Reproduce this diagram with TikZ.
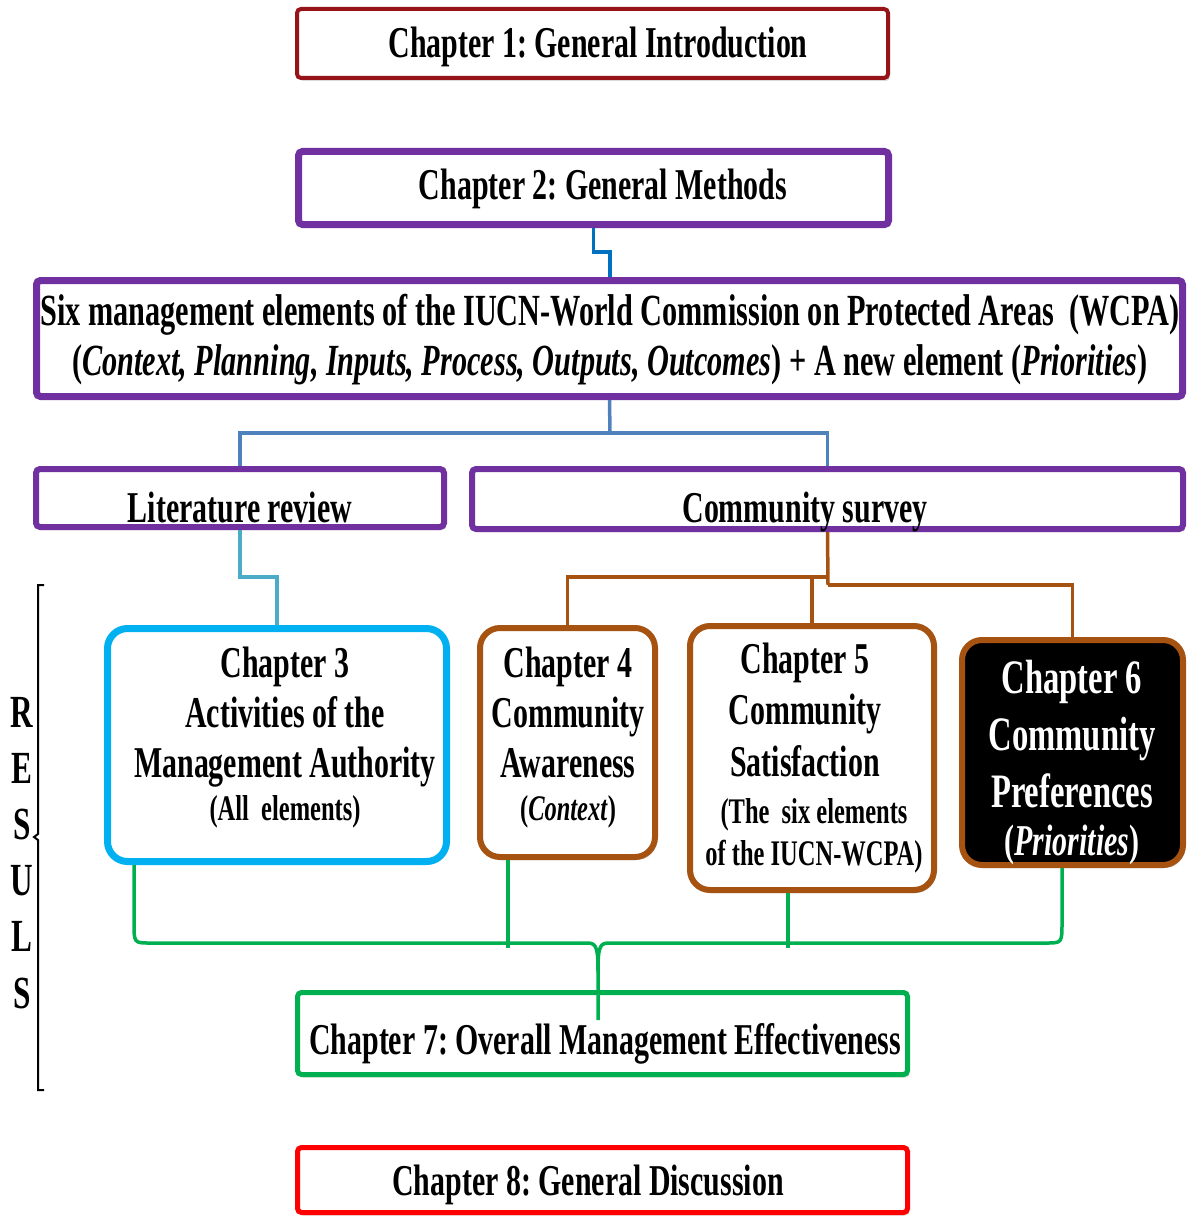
\documentclass[tikz,border=0pt]{standalone}
\usepackage{fontspec}
\setmainfont{Liberation Serif}[FakeStretch=0.68]
\usetikzlibrary{shadows}

\definecolor{introred}{RGB}{150,20,24}
\definecolor{methpurple}{RGB}{112,48,160}
\definecolor{linkblue}{RGB}{0,112,192}
\definecolor{steelblue}{RGB}{79,129,189}
\definecolor{litblue}{RGB}{75,172,198}
\definecolor{mgmtcyan}{RGB}{0,176,240}
\definecolor{surveybrown}{RGB}{166,82,16}
\definecolor{effgreen}{RGB}{0,176,80}
\definecolor{discred}{RGB}{255,0,0}

\frenchspacing

\begin{document}
\begin{tikzpicture}[x=1pt, y=-1pt,
    box/.style={draw, fill=white, line width=6pt, rounded corners=4pt, inner sep=0pt,
                drop shadow={opacity=0.3, shadow xshift=2pt, shadow yshift=-3pt}},
    chbox/.style={box, rounded corners=20pt},
    link/.style={line width=3.5pt},
    title/.style={font=\bfseries\fontsize{44}{50}\selectfont, inner sep=0pt, align=center},
    sub/.style={font=\bfseries\fontsize{36}{42}\selectfont, inner sep=0pt, align=center}]

\useasboundingbox (0,0) rectangle (1188,1217);

% frames
\node[box, draw=introred, line width=4pt, minimum width=591, minimum height=69] (ch1) at (592.5,43.5) {};
\node[box, draw=methpurple, line width=7pt, minimum width=590, minimum height=73] (ch2) at (593.5,188) {};
\node[box, draw=methpurple, line width=7pt, minimum width=1146, minimum height=116] (elem) at (609.5,338.5) {};
\node[box, draw=methpurple, minimum width=408, minimum height=58] (lit) at (240,498) {};
\node[box, draw=methpurple, minimum width=711, minimum height=60] (srv) at (827.5,499) {};
\node[chbox, draw=mgmtcyan, line width=7pt, minimum width=339, minimum height=233] (ch3) at (277,745) {};
\node[chbox, draw=surveybrown, minimum width=175, minimum height=229] (ch4) at (567.5,742.5) {};
\node[chbox, draw=surveybrown, minimum width=244, minimum height=264] (ch5) at (812,758) {};
\node[chbox, draw=surveybrown, fill=black, minimum width=221, minimum height=225] (ch6) at (1072.5,752.5) {};
\node[box, draw=effgreen, line width=5pt, minimum width=610, minimum height=82] (ch7) at (602.5,1033.5) {};
\node[box, draw=discred, line width=5pt, minimum width=610, minimum height=65] (ch8) at (602.5,1180) {};

% texts (base = last line)
\node[title, anchor=base] (ch1txt) at (598,58) {Chapter 1: General Introduction};
\node[title, anchor=base] (ch2txt) at (603,199) {Chapter 2: General Methods};
\node[title, font=\bfseries\fontsize{44.5}{50}\selectfont, anchor=base] (elemtxt) at (610,375) {Six management elements of the IUCN-World Commission on Protected Areas\ \ (WCPA)\\
  (\textit{Context, Planning, Inputs, Process, Outputs, Outcomes}) + A new element (\textit{Priorities})};
\node[title, anchor=base] (littxt) at (240,522) {Literature review};
\node[title, anchor=base] (srvtxt) at (805,522) {Community survey};
\node[title, anchor=base] (ch3txt) at (285,777) {Chapter 3\\Activities of the\\Management Authority};
\node[sub, anchor=base] (ch3sub) at (285,820) {(All\ \ elements)};
\node[title, anchor=base] (ch4txt) at (568,777) {Chapter 4\\Community\\Awareness};
\node[sub, anchor=base] (ch4sub) at (568,820) {(\textit{Context})};
\node[title, font=\bfseries\fontsize{44}{51.5}\selectfont, anchor=base] (ch5txt) at (805,776) {Chapter 5\\Community\\Satisfaction};
\node[sub, anchor=base] (ch5sub) at (814,865) {(The\ \ six elements\\of the IUCN-WCPA)};
\node[title, font=\bfseries\fontsize{48}{57}\selectfont, text=white, anchor=base] (ch6txt) at (1072,807) {Chapter 6\\Community\\Preferences};
\node[title, text=white, anchor=base] (ch6sub) at (1072,855) {(\textit{Priorities})};
\node[title, anchor=base] (ch7txt) at (605,1054) {Chapter 7: Overall Management Effectiveness};
\node[title, anchor=base] (ch8txt) at (588,1195) {Chapter 8: General Discussion};
\node[title, font=\bfseries\fontsize{46}{56.2}\selectfont, anchor=base] (resl) at (22,1008) {R\\E\\S\\U\\L\\S};

% joints
\coordinate (k1) at (610,252);
\coordinate (k2) at (610,433);
\coordinate (k3) at (277,577);
\coordinate (k4) at (828,577);
\coordinate (k5) at (828,585);
\coordinate (g3) at (134,943);
\coordinate (g4) at (508,948);
\coordinate (g5) at (788,948);
\coordinate (g6) at (1062,943);
\coordinate (tip) at (598,1020);

% links
\draw[link, linkblue] (ch2.south) |- (k1) -- (elem.north -| k1);
\draw[link, steelblue] (elem.south) -- (k2);
\draw[link, steelblue] (lit.north) |- (k2) -| (srv.north);
\draw[link, litblue] (lit.south) |- (k3) -- (ch3.north -| k3);
\draw[link, surveybrown] (srv.south) -- (k5);
\draw[link, surveybrown] (k4) -| (ch4.north);
\draw[link, surveybrown] (ch5.north) -- (ch5.north |- k4);
\draw[link, surveybrown] (k5) -| (ch6.north);
\draw[link, effgreen] (ch3.south -| g3) -- (134,922) .. controls (134,943) .. (150,943) -- (588,943)
  .. controls (597,943) and (598,950) .. (598,972) -- (tip);
\draw[link, effgreen] (ch6.south -| g6) -- (1062,922) .. controls (1062,943) .. (1046,943) -- (608,943)
  .. controls (599,943) and (598,950) .. (598,972);
\draw[link, effgreen] (ch4.south -| g4) -- (g4);
\draw[link, effgreen] (ch5.south -| g5) -- (g5);

% bracket
\draw[line width=2pt] (44,585) -- (38,585) -- (38,834) -- (34,837) -- (38,840) -- (38,1090) -- (44,1090);
\end{tikzpicture}
\end{document}
